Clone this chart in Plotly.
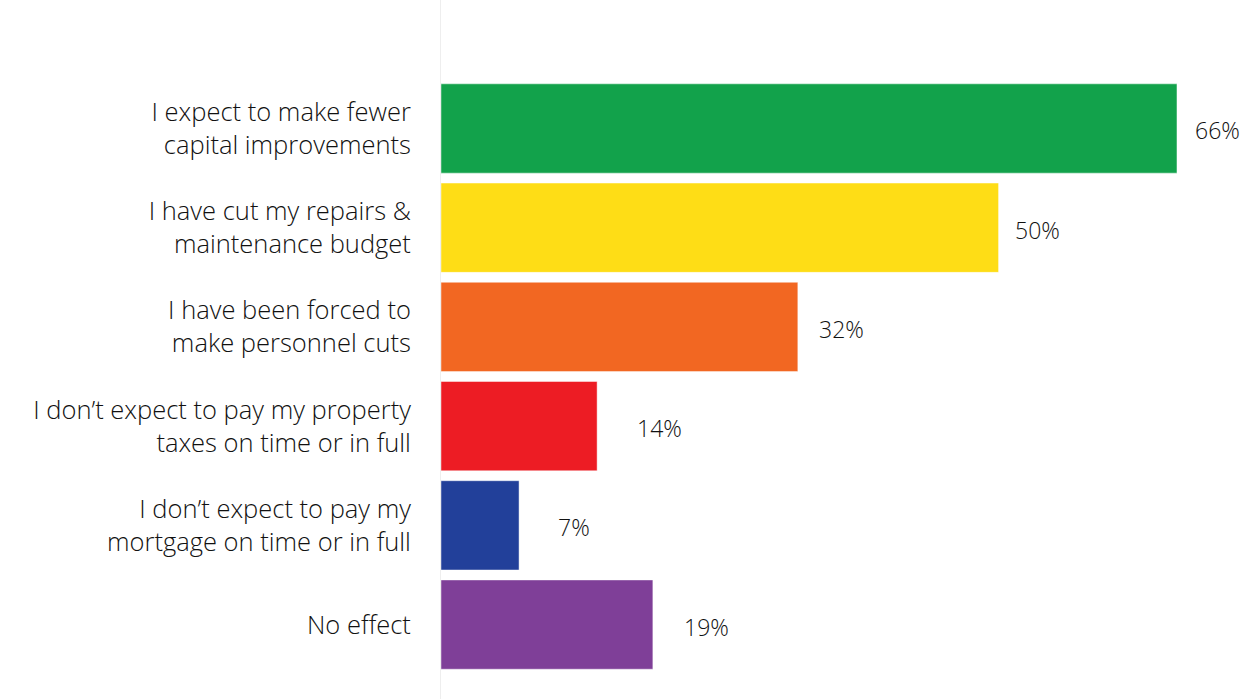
import plotly.graph_objects as go

# Survey responses, top to bottom
categories = [
    "I expect to make fewer<br>capital improvements",
    "I have cut my repairs &<br>maintenance budget",
    "I have been forced to<br>make personnel cuts",
    "I don’t expect to pay my property<br>taxes on time or in full",
    "I don’t expect to pay my<br>mortgage on time or in full",
    "No effect",
]
values = [66, 50, 32, 14, 7, 19]
value_labels = ["66%", "50%", "32%", "14%", "7%", "19%"]

bar_colors = ["#12a24b", "#fedd16", "#f26722", "#ed1c24", "#22409a", "#7f3f98"]
label_pad_px = [16, 14, 19, 38, 37, 29]

FONT = "'Open Sans', Lato, sans-serif"
TEXT = "#111111"

positions = list(range(len(categories)))

fig = go.Figure(
    go.Bar(
        x=values,
        y=positions,
        orientation="h",
        width=0.9,
        marker=dict(color=bar_colors, line=dict(color="rgba(255,255,255,0.45)", width=1)),
        hoverinfo="skip",
    )
)

for pos, val, txt, pad in zip(positions, values, value_labels, label_pad_px):
    fig.add_annotation(
        x=val, y=pos, text=txt, showarrow=False,
        xanchor="left", yanchor="middle", xshift=pad, yshift=-2,
        font=dict(family=FONT, size=23, color=TEXT, weight=300),
    )

fig.update_layout(
    width=1245, height=699,
    margin=dict(l=441, r=0, t=0, b=0),
    paper_bgcolor="white", plot_bgcolor="white",
    showlegend=False,
    xaxis=dict(range=[0, 72.1], visible=False, fixedrange=True),
    yaxis=dict(
        range=[5.75, -1.295],
        tickvals=positions, ticktext=categories,
        showgrid=False, zeroline=False,
        showline=True, linecolor="#eeeeee", linewidth=1,
        ticks="", ticklabelstandoff=24,
        tickfont=dict(family=FONT, size=25.5, color=TEXT, weight=300),
        fixedrange=True,
    ),
)

fig.write_html("out.html")
